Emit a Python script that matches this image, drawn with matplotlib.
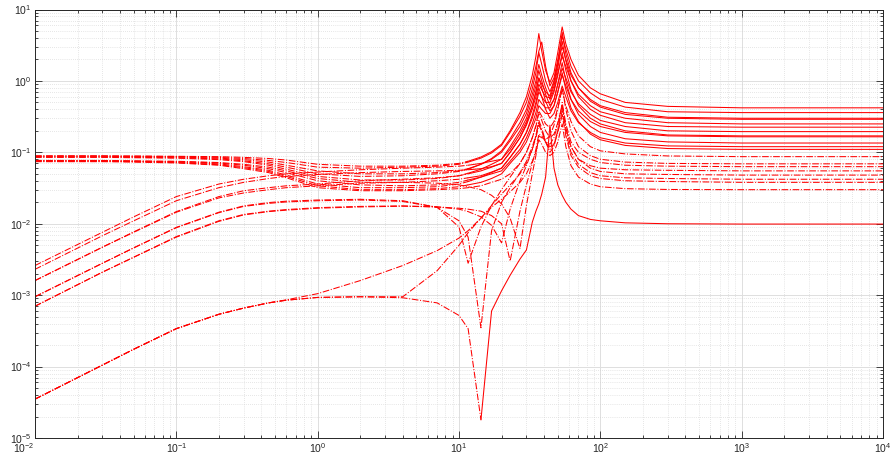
import matplotlib
matplotlib.use('Agg')
import matplotlib.pyplot as plt
from matplotlib.ticker import LogLocator, NullFormatter

plt.rcParams['font.family'] = ['Liberation Sans', 'DejaVu Sans']
plt.rcParams['mathtext.default'] = 'regular'

# frequency grid (Hz)
freq = [0.01, 0.03, 0.05, 0.1, 0.2, 0.3, 0.45, 0.6, 1, 2, 4, 7, 10, 11.6, 14.3, 17,
        20, 23, 27, 30, 33, 35, 36.7, 38.5, 41, 44, 47, 50, 53.7, 57, 62,
        70, 85, 100, 150, 300, 1000, 10000]

# curves that turn solid above ~11 Hz
s1 = [0.089, 0.089, 0.089, 0.088, 0.087, 0.085, 0.082, 0.078, 0.068, 0.064, 0.064, 0.066, 0.07, 0.075, 0.086, 0.102,
      0.13, 0.2, 0.36, 0.6, 1.2, 2.2, 4.6, 2.6, 1.4, 0.95, 1.3, 2.5, 5.7, 3.3, 2.0,
      1.2, 0.8, 0.66, 0.5, 0.44, 0.42, 0.42]
s2 = [0.089, 0.089, 0.088, 0.087, 0.085, 0.082, 0.077, 0.072, 0.062, 0.06, 0.062, 0.064, 0.068, 0.073, 0.083, 0.098,
      0.125, 0.19, 0.32, 0.5, 0.95, 1.6, 2.6, 3.5, 1.6, 0.85, 1.1, 2.0, 4.2, 2.8, 1.6,
      1.0, 0.68, 0.55, 0.43, 0.37, 0.36, 0.36]
s3 = [0.088, 0.088, 0.087, 0.086, 0.083, 0.079, 0.073, 0.066, 0.055, 0.05, 0.05, 0.052, 0.055, 0.059, 0.068, 0.082,
      0.105, 0.155, 0.26, 0.4, 0.78, 1.3, 2.5, 1.7, 1.0, 0.7, 1.0, 1.8, 3.0, 2.0, 1.2,
      0.8, 0.55, 0.45, 0.36, 0.31, 0.30, 0.30]
s4 = [2.6e-3, 7.6e-3, 0.0125, 0.024, 0.036, 0.042, 0.047, 0.05, 0.053, 0.057, 0.06, 0.062, 0.064, 0.066, 0.07, 0.075,
      0.08, 0.11, 0.18, 0.27, 0.45, 0.7, 1.1, 0.9, 0.7, 0.62, 0.95, 1.7, 4.8, 2.4, 1.3,
      0.8, 0.52, 0.43, 0.34, 0.3, 0.29, 0.29]
s5 = [0.086, 0.086, 0.085, 0.084, 0.081, 0.076, 0.069, 0.062, 0.05, 0.046, 0.047, 0.05, 0.054, 0.058, 0.068, 0.08,
      0.1, 0.145, 0.23, 0.35, 0.65, 1.0, 1.7, 1.2, 0.8, 0.55, 0.75, 1.3, 2.2, 1.6, 1.0,
      0.65, 0.45, 0.37, 0.3, 0.26, 0.25, 0.25]
s6 = [2.3e-3, 6.8e-3, 0.011, 0.021, 0.032, 0.038, 0.043, 0.046, 0.049, 0.052, 0.054, 0.055, 0.056, 0.057, 0.059, 0.063,
      0.07, 0.1, 0.16, 0.24, 0.4, 0.6, 0.9, 0.75, 0.6, 0.58, 0.85, 1.5, 3.6, 1.9, 1.0,
      0.6, 0.4, 0.33, 0.26, 0.23, 0.225, 0.225]
s7 = [0.085, 0.085, 0.084, 0.083, 0.079, 0.074, 0.066, 0.058, 0.046, 0.041, 0.041, 0.043, 0.047, 0.051, 0.058, 0.068,
      0.08, 0.12, 0.2, 0.3, 0.55, 0.85, 1.4, 1.0, 0.65, 0.45, 0.55, 0.9, 1.5, 1.1, 0.7,
      0.48, 0.34, 0.28, 0.23, 0.2, 0.195, 0.195]
s8 = [0.077, 0.077, 0.076, 0.075, 0.072, 0.068, 0.062, 0.055, 0.043, 0.038, 0.038, 0.04, 0.042, 0.044, 0.047, 0.053,
      0.06, 0.085, 0.13, 0.19, 0.3, 0.45, 0.7, 0.6, 0.5, 0.5, 0.7, 1.2, 2.5, 1.4, 0.75,
      0.45, 0.3, 0.25, 0.2, 0.175, 0.17, 0.17]
s9 = [1.6e-3, 4.7e-3, 7.7e-3, 0.0148, 0.024, 0.029, 0.032, 0.034, 0.036, 0.04, 0.042, 0.044, 0.047, 0.05, 0.055, 0.062,
      0.07, 0.1, 0.16, 0.25, 0.45, 0.7, 1.1, 0.8, 0.52, 0.38, 0.45, 0.7, 1.2, 0.85, 0.55,
      0.38, 0.27, 0.23, 0.19, 0.17, 0.165, 0.165]
s10 = [0.076, 0.076, 0.075, 0.074, 0.071, 0.066, 0.059, 0.052, 0.04, 0.035, 0.034, 0.035, 0.038, 0.041, 0.045, 0.05,
       0.055, 0.075, 0.11, 0.16, 0.25, 0.36, 0.55, 0.48, 0.42, 0.42, 0.55, 0.9, 1.8, 1.0, 0.55,
       0.34, 0.23, 0.19, 0.155, 0.14, 0.135, 0.135]
s11 = [0.076, 0.076, 0.075, 0.073, 0.069, 0.063, 0.056, 0.048, 0.036, 0.032, 0.032, 0.033, 0.036, 0.039, 0.045, 0.052,
       0.06, 0.085, 0.13, 0.19, 0.33, 0.5, 0.8, 0.6, 0.4, 0.3, 0.35, 0.5, 0.85, 0.6, 0.38,
       0.26, 0.19, 0.16, 0.135, 0.123, 0.12, 0.12]
s12 = [0.075, 0.075, 0.074, 0.072, 0.067, 0.061, 0.054, 0.046, 0.034, 0.03, 0.03, 0.031, 0.033, 0.035, 0.038, 0.043,
       0.05, 0.07, 0.1, 0.14, 0.22, 0.3, 0.45, 0.4, 0.35, 0.35, 0.45, 0.7, 1.3, 0.75, 0.42,
       0.27, 0.18, 0.15, 0.125, 0.113, 0.11, 0.11]

# curves drawn dash-dot all the way
d1 = [0.074, 0.074, 0.073, 0.071, 0.066, 0.059, 0.052, 0.044, 0.032, 0.029, 0.029, 0.03, 0.031, 0.032, 0.034, 0.038,
      0.042, 0.05, 0.07, 0.1, 0.16, 0.24, 0.38, 0.32, 0.25, 0.22, 0.27, 0.42, 0.75, 0.45, 0.27,
      0.17, 0.12, 0.105, 0.095, 0.089, 0.087, 0.087]
d2 = [1.6e-3, 4.7e-3, 7.6e-3, 0.0145, 0.023, 0.027, 0.03, 0.032, 0.034, 0.037, 0.038, 0.037, 0.035, 0.033, 0.03, 0.025,
      0.019, 0.012, 0.0045, 0.018, 0.05, 0.09, 0.17, 0.16, 0.15, 0.17, 0.24, 0.4, 0.8, 0.4, 0.2,
      0.12, 0.09, 0.08, 0.073, 0.07, 0.069, 0.069]
d3 = [7e-4, 2.1e-3, 3.4e-3, 6.6e-3, 0.011, 0.0135, 0.015, 0.0158, 0.0168, 0.0175, 0.0178, 0.0172, 0.016, 0.0148, 0.0125, 0.0095,
      0.0054, 0.016, 0.04, 0.065, 0.11, 0.17, 0.28, 0.22, 0.14, 0.1, 0.12, 0.2, 0.5, 0.25, 0.14,
      0.1, 0.08, 0.072, 0.066, 0.064, 0.063, 0.063]
d4 = [7e-4, 2.1e-3, 3.4e-3, 6.5e-3, 0.0108, 0.0133, 0.0148, 0.0155, 0.0165, 0.0172, 0.0176, 0.0172, 0.0165, 0.016, 0.015, 0.013,
      0.01, 0.003, 0.015, 0.035, 0.07, 0.11, 0.18, 0.17, 0.14, 0.13, 0.16, 0.25, 0.45, 0.22, 0.12,
      0.08, 0.065, 0.06, 0.057, 0.056, 0.055, 0.055]
d5 = [9.5e-4, 2.8e-3, 4.6e-3, 8.9e-3, 0.0145, 0.0178, 0.0198, 0.0207, 0.0215, 0.022, 0.021, 0.017, 0.009, 0.0028, 0.009, 0.018,
      0.03, 0.045, 0.07, 0.1, 0.16, 0.23, 0.35, 0.28, 0.2, 0.16, 0.18, 0.26, 0.45, 0.22, 0.12,
      0.08, 0.06, 0.054, 0.05, 0.049, 0.048, 0.048]
d6 = [9.5e-4, 2.8e-3, 4.6e-3, 8.8e-3, 0.0143, 0.0175, 0.0193, 0.0202, 0.021, 0.0215, 0.0205, 0.017, 0.011, 0.0065, 0.00035, 0.008,
      0.02, 0.032, 0.052, 0.075, 0.12, 0.17, 0.26, 0.2, 0.14, 0.11, 0.13, 0.2, 0.38, 0.19, 0.1,
      0.068, 0.052, 0.047, 0.044, 0.043, 0.042, 0.042]
d7 = [3.5e-5, 1.05e-4, 1.75e-4, 3.4e-4, 5.4e-4, 6.6e-4, 7.8e-4, 8.6e-4, 1.05e-3, 1.6e-3, 2.6e-3, 4.2e-3, 6.3e-3, 8e-3, 0.012, 0.018,
      0.026, 0.035, 0.05, 0.07, 0.11, 0.16, 0.24, 0.2, 0.14, 0.12, 0.13, 0.19, 0.33, 0.17, 0.09,
      0.062, 0.047, 0.043, 0.04, 0.039, 0.038, 0.038]
d8 = [3.5e-5, 1.05e-4, 1.75e-4, 3.4e-4, 5.4e-4, 6.6e-4, 7.8e-4, 8.5e-4, 9.3e-4, 9.5e-4, 9.5e-4, 2.2e-3, 5e-3, 7.5e-3, 0.012, 0.017,
      0.022, 0.028, 0.038, 0.05, 0.075, 0.1, 0.15, 0.13, 0.1, 0.09, 0.1, 0.14, 0.25, 0.12, 0.065,
      0.045, 0.036, 0.033, 0.031, 0.0302, 0.030, 0.030]

# lowest curve: dash-dot down to the notch, solid afterwards
low = [3.5e-5, 1.05e-4, 1.75e-4, 3.4e-4, 5.4e-4, 6.6e-4, 7.8e-4, 8.5e-4, 9.3e-4, 9.5e-4, 9.2e-4, 7.8e-4, 5.2e-4, 3.4e-4, 1.8e-5, 6e-4,
       1.15e-3, 1.9e-3, 3.2e-3, 4.3e-3, 0.0105, 0.015, 0.019, 0.026, 0.045, 0.24, 0.06, 0.035, 0.025, 0.02, 0.016,
       0.013, 0.0115, 0.011, 0.0103, 0.01, 0.0099, 0.0099]

solid_curves = [s1, s2, s3, s4, s5, s6, s7, s8, s9, s10, s11, s12]
dashed_curves = [d1, d2, d3, d4, d5, d6, d7, d8]

fig = plt.figure(figsize=(8.91, 4.59), dpi=100)
ax = fig.add_axes([35 / 891, 21 / 459, 848 / 891, 428.5 / 459])

lw = 0.75
k = freq.index(11.6)
n = freq.index(14.3)
for y in dashed_curves:
    ax.plot(freq, y, '-.', color='red', lw=lw)
for y in solid_curves:
    ax.plot(freq[:k + 1], y[:k + 1], '-.', color='red', lw=lw)
    ax.plot(freq[k:], y[k:], '-', color='red', lw=lw)
ax.plot(freq[:n + 1], low[:n + 1], '-.', color='red', lw=lw)
ax.plot(freq[n:], low[n:], '-', color='red', lw=lw)

ax.set_xscale('log')
ax.set_yscale('log')
ax.set_xlim(1e-2, 1e4)
ax.set_ylim(1e-5, 1e1)

for axis in (ax.xaxis, ax.yaxis):
    axis.set_major_locator(LogLocator(base=10, numticks=20))
    axis.set_minor_locator(LogLocator(base=10, subs=range(2, 10), numticks=20))
    axis.set_minor_formatter(NullFormatter())

ax.grid(which='major', color='#dedede', lw=0.7, ls='-')
ax.grid(which='minor', color='#cfcfcf', lw=0.5, ls=(0, (1, 2)))
ax.set_axisbelow(True)

for sp in ax.spines.values():
    sp.set_color('#262626')
    sp.set_linewidth(0.7)
ax.tick_params(which='both', direction='in', top=True, right=True,
               colors='#262626', labelsize=7.5, width=0.6)
ax.tick_params(which='major', length=5)
ax.tick_params(which='minor', length=2.5)
ax.tick_params(axis='x', pad=2.5)
ax.tick_params(axis='y', pad=2.5)

fig.canvas.draw()
# first x label sits left of the corner, as in the original
for tick in ax.xaxis.get_major_ticks():
    if abs(tick.get_loc() - 1e-2) < 1e-9:
        tick.label1.set_horizontalalignment('right')

fig.savefig('out.png', dpi=100)
